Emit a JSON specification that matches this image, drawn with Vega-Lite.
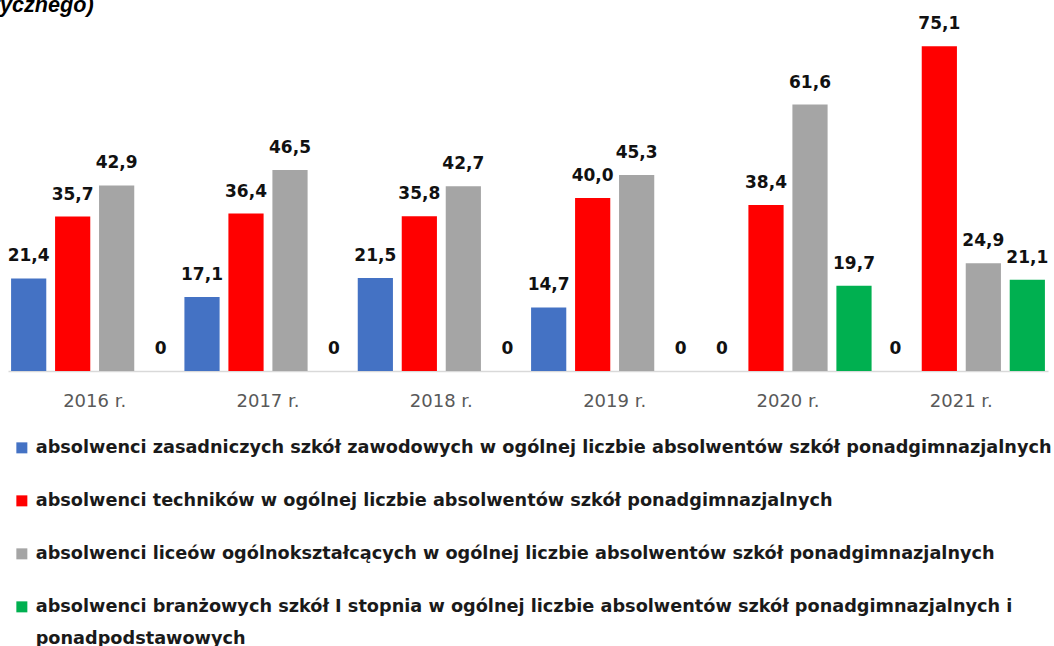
{
  "$schema": "https://vega.github.io/schema/vega-lite/v6.json",
  "autosize": "none",
  "width": 1040,
  "height": 346,
  "padding": {"left": 8, "top": 25, "right": 6, "bottom": 275},
  "background": "white",
  "title": {
    "text": "tycznego)",
    "anchor": "start",
    "frame": "group",
    "font": "Liberation Sans",
    "fontStyle": "italic",
    "fontWeight": "bold",
    "fontSize": 21.6,
    "color": "#000000",
    "baseline": "alphabetic",
    "offset": -18,
    "dx": -15.2
  },
  "data": {
    "values": [
      {"year": "2016 r.", "series": "zsz", "value": 21.4},
      {"year": "2016 r.", "series": "tech", "value": 35.7},
      {"year": "2016 r.", "series": "lo", "value": 42.9},
      {"year": "2016 r.", "series": "bs", "value": 0},
      {"year": "2017 r.", "series": "zsz", "value": 17.1},
      {"year": "2017 r.", "series": "tech", "value": 36.4},
      {"year": "2017 r.", "series": "lo", "value": 46.5},
      {"year": "2017 r.", "series": "bs", "value": 0},
      {"year": "2018 r.", "series": "zsz", "value": 21.5},
      {"year": "2018 r.", "series": "tech", "value": 35.8},
      {"year": "2018 r.", "series": "lo", "value": 42.7},
      {"year": "2018 r.", "series": "bs", "value": 0},
      {"year": "2019 r.", "series": "zsz", "value": 14.7},
      {"year": "2019 r.", "series": "tech", "value": 40.0},
      {"year": "2019 r.", "series": "lo", "value": 45.3},
      {"year": "2019 r.", "series": "bs", "value": 0},
      {"year": "2020 r.", "series": "zsz", "value": 0},
      {"year": "2020 r.", "series": "tech", "value": 38.4},
      {"year": "2020 r.", "series": "lo", "value": 61.6},
      {"year": "2020 r.", "series": "bs", "value": 19.7},
      {"year": "2021 r.", "series": "zsz", "value": 0},
      {"year": "2021 r.", "series": "tech", "value": 75.1},
      {"year": "2021 r.", "series": "lo", "value": 24.9},
      {"year": "2021 r.", "series": "bs", "value": 21.1}
    ]
  },
  "transform": [
    {"calculate": "datum.value == 0 ? '0' : replace(format(datum.value, '.1f'), '.', ',')", "as": "label"}
  ],
  "encoding": {
    "x": {
      "field": "year",
      "type": "nominal",
      "scale": {"paddingInner": 0, "paddingOuter": 0},
      "axis": {
        "title": null,
        "labelAngle": 0,
        "ticks": false,
        "domainColor": "#d9d9d9",
        "domainWidth": 1.5,
        "labelFont": "DejaVu Sans",
        "labelFontSize": 18,
        "labelColor": "#595959",
        "labelPadding": 21
      }
    },
    "xOffset": {
      "field": "series",
      "type": "nominal",
      "sort": ["zsz", "tech", "lo", "bs"],
      "scale": {"paddingInner": 0.2, "paddingOuter": 0.07}
    },
    "y": {
      "field": "value",
      "type": "quantitative",
      "scale": {"domain": [0, 80], "nice": false},
      "axis": null
    }
  },
  "layer": [
    {
      "mark": {"type": "bar"},
      "encoding": {
        "color": {
          "field": "series",
          "type": "nominal",
          "scale": {
            "domain": ["zsz", "tech", "lo", "bs"],
            "range": ["#4472C4", "#FF0000", "#A5A5A5", "#00B050"]
          },
          "legend": {
            "title": null,
            "orient": "none",
            "legendX": 5,
            "legendY": 414,
            "direction": "vertical",
            "padding": 0,
            "rowPadding": 34,
            "symbolType": "square",
            "symbolSize": 121,
            "symbolStrokeWidth": 0,
            "labelOffset": 5,
            "labelFont": "DejaVu Sans",
            "labelFontWeight": "bold",
            "labelFontSize": 17.7,
            "labelColor": "#1a1a1a",
            "labelLimit": 1100,
            "encode": {"labels": {"update": {"lineHeight": {"value": 32}}}},
            "labelExpr": "datum.value == 'zsz' ? 'absolwenci zasadniczych szkół zawodowych w ogólnej liczbie absolwentów szkół ponadgimnazjalnych' : datum.value == 'tech' ? 'absolwenci techników w ogólnej liczbie absolwentów szkół ponadgimnazjalnych' : datum.value == 'lo' ? 'absolwenci liceów ogólnokształcących w ogólnej liczbie absolwentów szkół ponadgimnazjalnych' : ['absolwenci branżowych szkół I stopnia w ogólnej liczbie absolwentów szkół ponadgimnazjalnych i', 'ponadpodstawowych']"
          }
        }
      }
    },
    {
      "mark": {
        "type": "text",
        "baseline": "alphabetic",
        "dy": -17,
        "font": "DejaVu Sans",
        "fontWeight": "bold",
        "fontSize": 17,
        "color": "#111111"
      },
      "encoding": {
        "text": {"field": "label"}
      }
    }
  ],
  "config": {
    "view": {"stroke": null}
  }
}
